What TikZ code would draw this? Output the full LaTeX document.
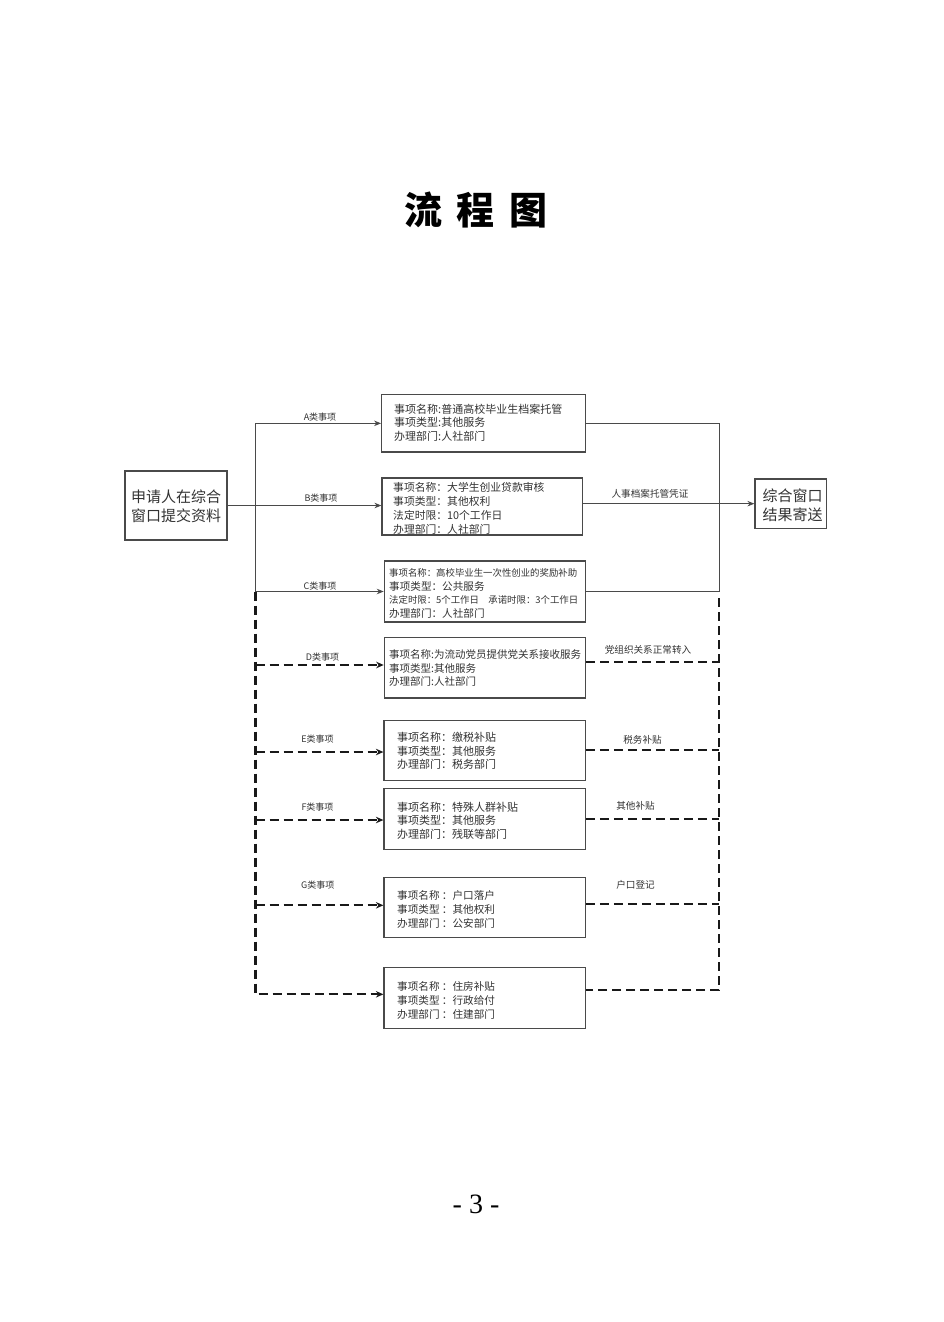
\documentclass[tikz,border=0pt]{standalone}
\usepackage{fontspec}
\setmainfont{Noto Sans CJK SC}
\newfontfamily\serifnum{Liberation Serif}
\usetikzlibrary{arrows.meta}
\definecolor{linegray}{HTML}{4A4A4A}
\definecolor{txtgray}{HTML}{333333}
\tikzset{
  box/.style={draw=linegray, line width=1.2pt, inner sep=0pt},
  txt/.style={align=left, inner sep=0pt, text=txtgray, anchor=west},
  lbl/.style={inner sep=0pt, text=txtgray, font=\fontsize{9}{11}\selectfont},
  rlbl/.style={inner sep=0pt, text=txtgray, font=\fontsize{9.6}{11}\selectfont},
  sline/.style={draw=linegray, line width=1pt},
  dline/.style={draw=black!90, line width=2.2pt, dash pattern=on 9pt off 5pt},
  sarrow/.style={-{Stealth[length=7pt,width=5.5pt]}},
  darrow/.style={-{Stealth[length=7.5pt,width=6.5pt]}},
}
\begin{document}
\begin{tikzpicture}[x=1pt,y=-1pt]
\fill[white] (0,0) rectangle (944,1322);
\useasboundingbox (0,0) rectangle (944,1322);

% title
\node (title) at (476,210) {\fontsize{38}{40}\selectfont\bfseries 流\hspace{15pt}程\hspace{15pt}图};

% boxes
\node[box, minimum width=102pt, minimum height=69pt] (L) at (176,505.5) {};
\node[txt, font=\fontsize{15}{18.8}\selectfont] (Lt) at (131,506.5) {申请人在综合\\窗口提交资料};

\node[box, minimum width=204pt, minimum height=57.3pt] (A) at (483.7,423.35) {};
\node[txt, font=\fontsize{11}{13.5}\selectfont] (At) at (394,422.8) {事项名称:普通高校毕业生档案托管\\事项类型:其他服务\\办理部门:人社部门};

\node[box, minimum width=200.7pt, minimum height=57pt] (B) at (482.35,506.5) {};
\node[txt, font=\fontsize{10.8}{14.1}\selectfont] (Bt) at (393,508.2) {事项名称：大学生创业贷款审核\\事项类型：其他权利\\法定时限：10个工作日\\办理部门：人社部门};

\node[box, minimum width=201.4pt, minimum height=61pt] (C) at (485,591.5) {};
\node[txt, font=\fontsize{10.6}{13.4}\selectfont] (Ct) at (389,593.5) {{\fontsize{9.4}{13.4}\selectfont 事项名称：高校毕业生一次性创业的奖励补助}\\事项类型：公共服务\\{\fontsize{9.4}{13.4}\selectfont 法定时限：5个工作日　承诺时限：3个工作日}\\办理部门：人社部门};

\node[box, minimum width=201.4pt, minimum height=60.3pt] (D) at (485,667.85) {};
\node[txt, font=\fontsize{10.5}{13.8}\selectfont] (Dt) at (389,668.2) {事项名称:为流动党员提供党关系接收服务\\事项类型:其他服务\\办理部门:人社部门};

\node[box, minimum width=201.3pt, minimum height=60pt] (E) at (484.65,750.3) {};
\node[txt, font=\fontsize{11}{13.5}\selectfont] (Et) at (397,751) {事项名称：缴税补贴\\事项类型：其他服务\\办理部门：税务部门};

\node[box, minimum width=201.3pt, minimum height=60.6pt] (F) at (484.65,819) {};
\node[txt, font=\fontsize{11}{13.4}\selectfont] (Ft) at (397,820.6) {事项名称：特殊人群补贴\\事项类型：其他服务\\办理部门：残联等部门};

\node[box, minimum width=201.3pt, minimum height=60pt] (G) at (484.65,907.7) {};
\node[txt, font=\fontsize{10.6}{14.1}\selectfont] (Gt) at (397,909.2) {事项名称 ：户口落户\\事项类型 ：其他权利\\办理部门 ：公安部门};

\node[box, minimum width=201.3pt, minimum height=60.6pt] (H) at (484.65,998) {};
\node[txt, font=\fontsize{10.6}{14.1}\selectfont] (Ht) at (397,1000.8) {事项名称 ：住房补贴\\事项类型 ：行政给付\\办理部门 ：住建部门};

\node[box, minimum width=71.7pt, minimum height=49.3pt] (R) at (790.85,503.65) {};
\node[txt, font=\fontsize{15}{18.6}\selectfont] (Rt) at (762.5,505) {综合窗口\\结果寄送};

% helper coordinates
\coordinate (lx) at (255.5,500);
\coordinate (rx) at (719,500);
\coordinate (jD) at (255.5,665);
\coordinate (jE) at (255.5,752);
\coordinate (jF) at (255.5,820);
\coordinate (jG) at (255.5,905.3);
\coordinate (jH) at (255.5,994.3);
\coordinate (rTop) at (718.7,598);
\coordinate (rD) at (718.7,662);
\coordinate (rE) at (718.7,750.3);
\coordinate (rF) at (718.7,819);
\coordinate (rG) at (718.7,904.3);
\coordinate (rH) at (718.7,990.3);

% solid connectors
\draw[sline] (A.west -| lx) -- (C.west -| lx);
\draw[sline, sarrow] (A.west -| lx) -- (A.west);
\draw[sline, sarrow] (L.east) -- (L.east -| B.west);
\draw[sline, sarrow] (C.west -| lx) -- (C.west);
\draw[sline] (A.east) -- (A.east -| rx) -- (C.east -| rx) -- (C.east);
\draw[sline, sarrow] (B.east |- R.west) -- (R.west);

% dashed connectors
\draw[dline, darrow] (C.west -| lx) -- (jH) -- (jH -| H.west);
\draw[dline, darrow] (jD) -- (jD -| D.west);
\draw[dline, darrow] (jE) -- (jE -| E.west);
\draw[dline, darrow] (jF) -- (jF -| F.west);
\draw[dline, darrow] (jG) -- (jG -| G.west);
\draw[dline] (rTop) -- (rH) -- (rH -| H.east);
\draw[dline] (rD -| D.east) -- (rD);
\draw[dline] (rE -| E.east) -- (rE);
\draw[dline] (rF -| F.east) -- (rF);
\draw[dline] (rG -| G.east) -- (rG);

% labels
\node[lbl] (la) at (320,417) {A类事项};
\node[lbl] (lb) at (321,497.7) {B类事项};
\node[lbl] (lc) at (320,586) {C类事项};
\node[lbl] (ld) at (322.5,657) {D类事项};
\node[lbl] (le) at (317.5,739) {E类事项};
\node[lbl] (lf) at (317.5,806.7) {F类事项};
\node[lbl] (lg) at (317.7,885) {G类事项};
\node[rlbl] (lr) at (650,494) {人事档案托管凭证};
\node[rlbl] (ldr) at (648,650) {党组织关系正常转入};
\node[rlbl] (ler) at (642.5,740) {税务补贴};
\node[rlbl] (lfr) at (635.5,806) {其他补贴};
\node[rlbl] (lgr) at (635.5,885) {户口登记};

% page number
\node[anchor=base, inner sep=0pt] (pg) at (476,1213.3) {\serifnum\fontsize{28}{30}\selectfont - 3 -};
\end{tikzpicture}
\end{document}
